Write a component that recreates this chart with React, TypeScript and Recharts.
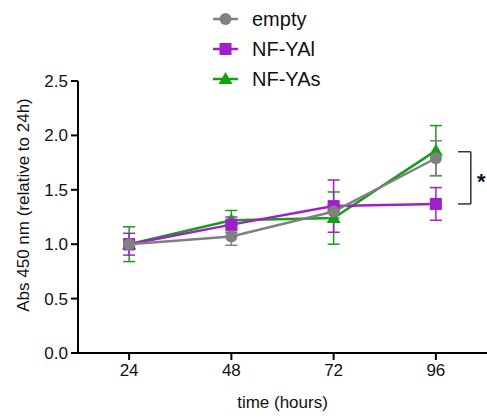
import { LineChart, Line, XAxis, YAxis, ErrorBar, ReferenceLine } from "recharts";

const hours = [24, 48, 72, 96];
const emptyMean = [1.0, 1.07, 1.3, 1.79];
const emptyErr = [0.05, 0.08, 0.06, 0.16];
const nfyalMean = [1.0, 1.18, 1.35, 1.37];
const nfyalErr = [0.1, 0.07, 0.24, 0.15];
const nfyasMean = [1.0, 1.22, 1.24, 1.86];
const nfyasErr = [0.16, 0.09, 0.24, 0.23];
const yTicks = [0, 0.5, 1, 1.5, 2, 2.5];

const GRAY = "#808080";
const PURPLE = "#a01fcb";
const GREEN = "#13a013";
const FONT = "'Liberation Sans', Arial, sans-serif";

const data = hours.map((h, i) => ({
  hour: h,
  empty: emptyMean[i],
  emptyErr: emptyErr[i],
  nfyal: nfyalMean[i],
  nfyalErr: nfyalErr[i],
  nfyas: nfyasMean[i],
  nfyasErr: nfyasErr[i],
}));

const legendItems = [
  { name: "empty", color: GRAY, shape: "circle" },
  { name: "NF-YAl", color: PURPLE, shape: "square" },
  { name: "NF-YAs", color: GREEN, shape: "triangle" },
];

function Marker({ shape, color, cx, cy }: { shape: string; color: string; cx: number; cy: number }) {
  if (shape === "square") return <rect x={cx - 6} y={cy - 6} width={12} height={12} fill={color} />;
  if (shape === "triangle")
    return <polygon points={`${cx},${cy - 7} ${cx - 7},${cy + 5} ${cx + 7},${cy + 5}`} fill={color} />;
  return <circle cx={cx} cy={cy} r={6} fill={color} />;
}

const dot = (shape: string, color: string) => (props: any) => (
  <Marker key={`${shape}-${props.index}`} shape={shape} color={color} cx={props.cx} cy={props.cy} />
);

export default function App() {
  return (
    <div style={{ position: "fixed", left: 0, top: 0, width: 487, height: 418, fontFamily: FONT, background: "#fff" }}>
      <LineChart width={487} height={418} data={data} margin={{ top: 81, right: 0, bottom: 0, left: 0 }}>
        <XAxis
          type="number"
          dataKey="hour"
          domain={[12, 108]}
          ticks={hours}
          allowDataOverflow
          axisLine={{ stroke: "#000", strokeWidth: 2 }}
          tickLine={{ stroke: "#000", strokeWidth: 2 }}
          tickSize={7}
          tickMargin={4}
          height={65}
          tick={{ fontSize: 17, fill: "#111", fontFamily: FONT }}
          label={{ value: "time (hours)", position: "insideBottom", offset: 10, fontSize: 17, fill: "#111", fontFamily: FONT }}
        />
        <YAxis
          domain={[0, 2.5]}
          ticks={yTicks}
          tickFormatter={(v: number) => v.toFixed(1)}
          axisLine={{ stroke: "#000", strokeWidth: 2 }}
          tickLine={{ stroke: "#000", strokeWidth: 2 }}
          tickSize={7}
          tickMargin={3}
          width={78}
          tick={{ fontSize: 17, fill: "#111", fontFamily: FONT }}
          label={{ value: "Abs 450 nm (relative to 24h)", angle: -90, position: "center", dx: -16, dy: -12, fontSize: 17, fill: "#111", fontFamily: FONT }}
        />
        <Line dataKey="nfyas" stroke={GREEN} strokeWidth={2.5} dot={dot("triangle", GREEN)} isAnimationActive={false}>
          <ErrorBar dataKey="nfyasErr" width={6} stroke={GREEN} strokeWidth={1.5} direction="y" />
        </Line>
        <Line dataKey="nfyal" stroke={PURPLE} strokeWidth={2.5} dot={dot("square", PURPLE)} isAnimationActive={false}>
          <ErrorBar dataKey="nfyalErr" width={6} stroke={PURPLE} strokeWidth={1.5} direction="y" />
        </Line>
        <Line dataKey="empty" stroke={GRAY} strokeWidth={2.5} dot={dot("circle", GRAY)} isAnimationActive={false}>
          <ErrorBar dataKey="emptyErr" width={6} stroke={GRAY} strokeWidth={1.5} direction="y" />
        </Line>
        <ReferenceLine segment={[{ x: 104.2, y: 1.85 }, { x: 104.2, y: 1.37 }]} stroke="#333" strokeWidth={1.5} />
        <ReferenceLine segment={[{ x: 101.2, y: 1.85 }, { x: 104.2, y: 1.85 }]} stroke="#333" strokeWidth={1.5} />
        <ReferenceLine segment={[{ x: 101.2, y: 1.37 }, { x: 104.2, y: 1.37 }]} stroke="#333" strokeWidth={1.5} />
      </LineChart>
      <div style={{ position: "absolute", left: 211, top: 4 }}>
        {legendItems.map((item) => (
          <div key={item.name} style={{ display: "flex", alignItems: "center", height: 30 }}>
            <svg width={30} height={20}>
              <line x1={2} y1={10} x2={27} y2={10} stroke={item.color} strokeWidth={2.5} />
              <Marker shape={item.shape} color={item.color} cx={14.5} cy={10} />
            </svg>
            <span style={{ marginLeft: 11, fontSize: 20, color: "#111" }}>{item.name}</span>
          </div>
        ))}
      </div>
      <div style={{ position: "absolute", left: 477, top: 171, fontSize: 22, lineHeight: 1, color: "#111", fontWeight: "bold" }}>*</div>
    </div>
  );
}
